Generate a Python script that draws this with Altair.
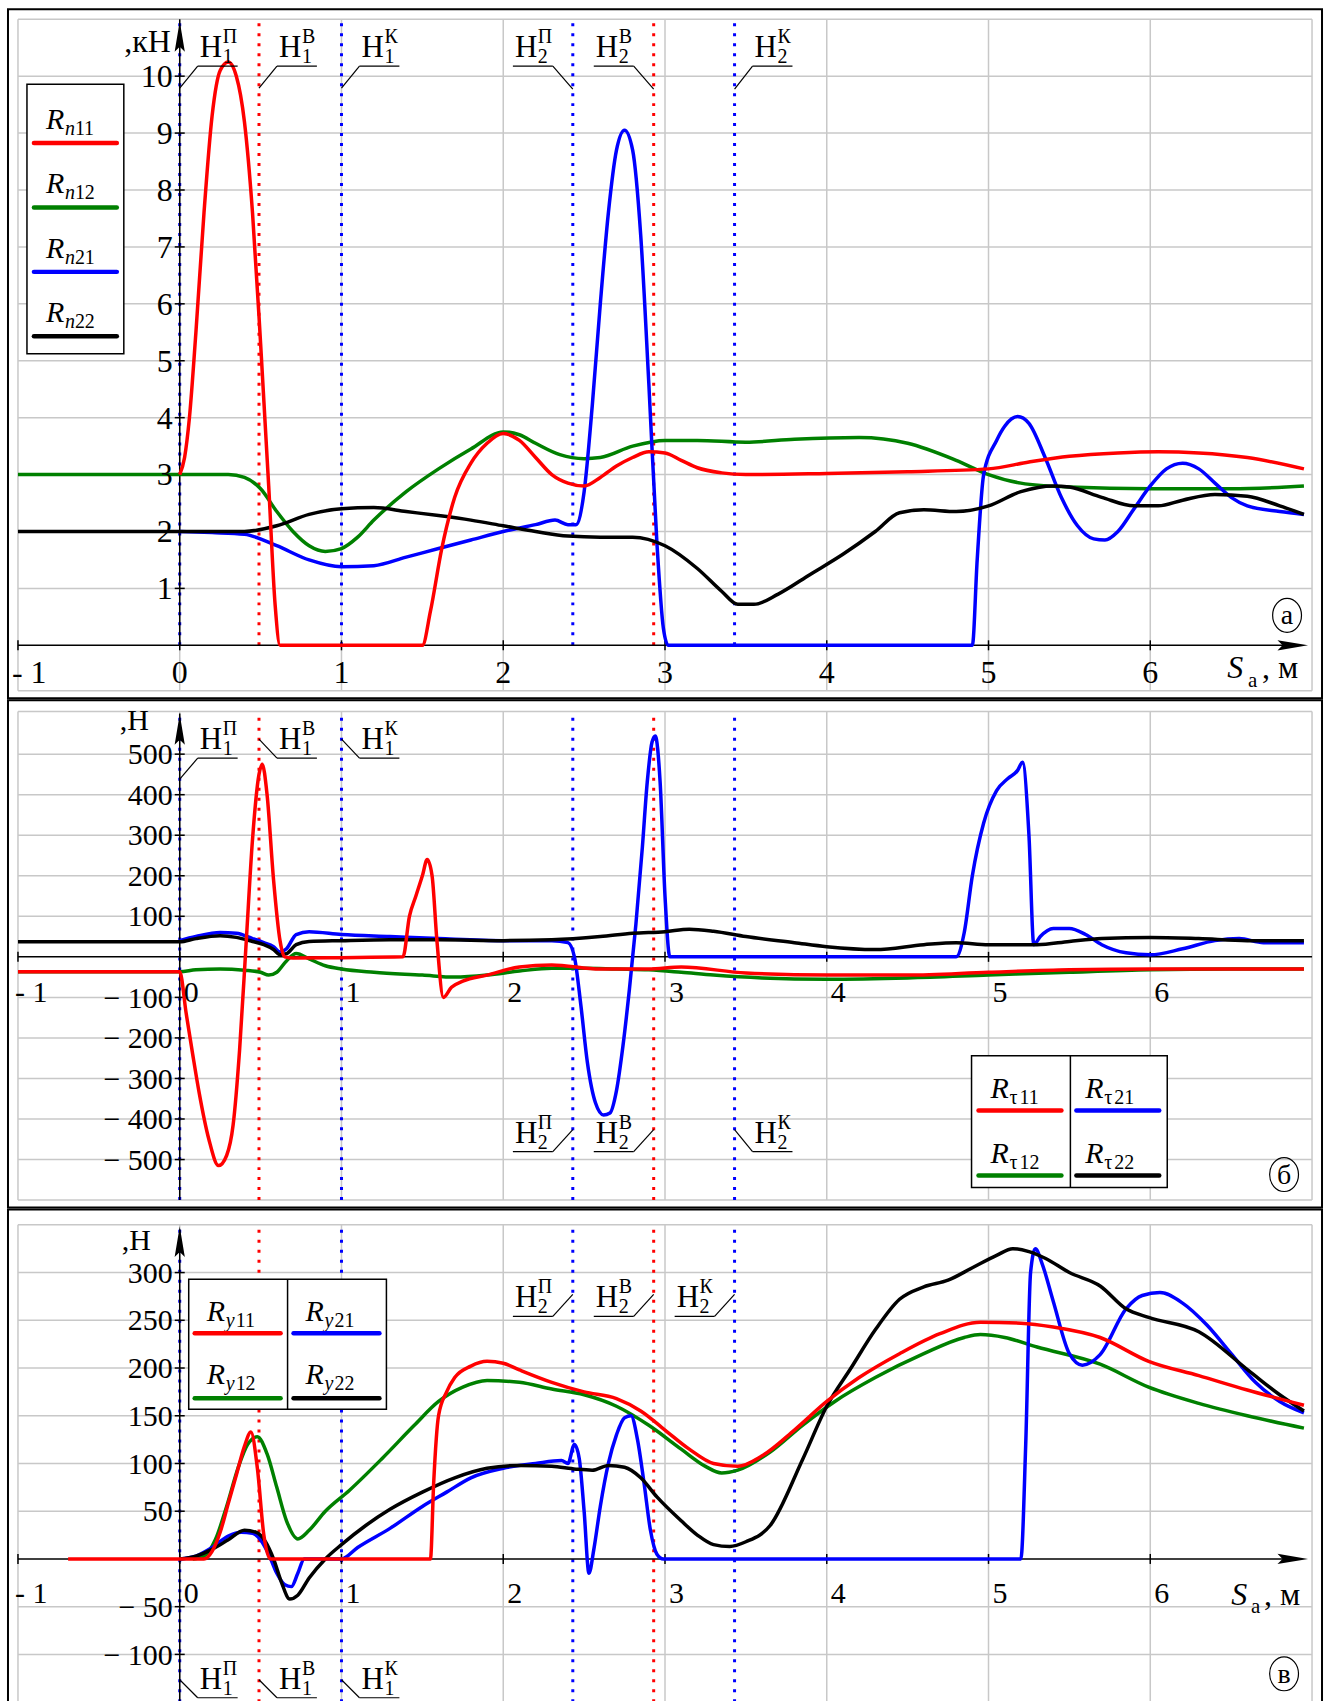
import altair as alt
import pandas as pd

FONT = "Liberation Serif, Times New Roman, DejaVu Serif, serif"
RED, GREEN, BLUE, BLACK = "#ff0000", "#008000", "#0000ff", "#000000"
GRID_COLOR = "#c8c8c8"

# ---------------- data ----------------
X_TICKS = [-1, 0, 1, 2, 3, 4, 5, 6]
X_TICK_LABELS = ["- 1", "0", "1", "2", "3", "4", "5", "6"]
GRID_X = [-1, 0, 1, 2, 3, 4, 5, 6, 7]

P1_Y_TICKS = [1, 2, 3, 4, 5, 6, 7, 8, 9, 10]
P1_Y_LABELS = ["1", "2", "3", "4", "5", "6", "7", "8", "9", "10"]
P2_Y_TICKS = [500, 400, 300, 200, 100, -100, -200, -300, -400, -500]
P2_Y_LABELS = ["500", "400", "300", "200", "100", "− 100", "− 200", "− 300", "− 400", "− 500"]
P3_Y_TICKS = [300, 250, 200, 150, 100, 50, -50, -100]
P3_Y_LABELS = ["300", "250", "200", "150", "100", "50", "− 50", "− 100"]

MARKER_X = [0.0, 0.49, 1.0, 2.43, 2.93, 3.43]
MARKER_SUB = ["1", "1", "1", "2", "2", "2"]
MARKER_SUP = ["П", "В", "К", "П", "В", "К"]

# panel а : normal reactions, kN
RN11 = [(0.00, 3.00), (0.03, 3.30), (0.06, 4.00), (0.10, 5.50), (0.15, 7.60), (0.20, 9.30), (0.25, 10.10),
        (0.30, 10.25), (0.35, 10.00), (0.40, 9.20), (0.45, 7.60), (0.50, 5.30), (0.55, 2.80), (0.59, 0.70),
        (0.62, 0.00), (1.50, 0.00), (1.55, 0.60), (1.62, 1.70), (1.70, 2.60), (1.80, 3.20), (1.90, 3.55),
        (2.00, 3.72), (2.10, 3.60), (2.20, 3.30), (2.30, 3.00), (2.40, 2.85), (2.50, 2.80), (2.60, 2.95),
        (2.70, 3.15), (2.80, 3.30), (2.90, 3.40), (3.00, 3.38), (3.10, 3.25), (3.20, 3.12), (3.35, 3.03),
        (3.50, 3.00), (4.00, 3.02), (4.50, 3.05), (5.00, 3.10), (5.25, 3.22), (5.50, 3.32), (5.80, 3.38),
        (6.05, 3.40), (6.30, 3.38), (6.60, 3.30), (6.95, 3.10)]
RN12 = [(-1.0, 3.0), (0.30, 3.0), (0.40, 2.95), (0.50, 2.75), (0.60, 2.35), (0.70, 2.00), (0.80, 1.75),
        (0.90, 1.65), (1.00, 1.70), (1.10, 1.90), (1.20, 2.20), (1.40, 2.70), (1.60, 3.10), (1.80, 3.45),
        (2.00, 3.75), (2.10, 3.70), (2.20, 3.55), (2.35, 3.35), (2.50, 3.28), (2.60, 3.30), (2.80, 3.50),
        (3.00, 3.60), (3.20, 3.60), (3.50, 3.57), (3.80, 3.62), (4.20, 3.65), (4.50, 3.55), (4.80, 3.25),
        (5.00, 3.00), (5.20, 2.85), (5.50, 2.78), (6.00, 2.75), (6.50, 2.75), (6.95, 2.80)]
RN21 = [(0.00, 2.00), (0.20, 1.98), (0.40, 1.95), (0.60, 1.75), (0.80, 1.50), (1.00, 1.38), (1.20, 1.40),
        (1.40, 1.55), (1.60, 1.70), (1.80, 1.85), (2.00, 2.00), (2.20, 2.12), (2.32, 2.20), (2.40, 2.12),
        (2.45, 2.12), (2.50, 2.70), (2.55, 4.20), (2.60, 6.00), (2.65, 7.60), (2.70, 8.70), (2.75, 9.05),
        (2.80, 8.70), (2.85, 7.20), (2.90, 4.60), (2.95, 1.80), (2.99, 0.30), (3.02, 0.00), (4.90, 0.00),
        (4.93, 1.50), (4.97, 3.00), (5.05, 3.60), (5.10, 3.85), (5.18, 4.02), (5.25, 3.90), (5.35, 3.30),
        (5.45, 2.60), (5.55, 2.10), (5.65, 1.87), (5.72, 1.85), (5.80, 2.00), (5.90, 2.40), (6.00, 2.80),
        (6.10, 3.10), (6.20, 3.20), (6.30, 3.10), (6.40, 2.85), (6.50, 2.60), (6.60, 2.45), (6.80, 2.35),
        (6.95, 2.30)]
RN22 = [(-1.0, 2.0), (0.40, 2.0), (0.60, 2.10), (0.80, 2.30), (1.00, 2.40), (1.20, 2.42), (1.40, 2.35),
        (1.60, 2.28), (1.80, 2.20), (2.00, 2.10), (2.20, 2.00), (2.40, 1.92), (2.60, 1.90), (2.80, 1.90),
        (3.00, 1.75), (3.20, 1.35), (3.35, 0.95), (3.45, 0.72), (3.55, 0.72), (3.70, 0.90), (3.90, 1.25),
        (4.10, 1.60), (4.30, 2.00), (4.45, 2.33), (4.60, 2.38), (4.80, 2.35), (5.00, 2.45), (5.20, 2.70),
        (5.40, 2.80), (5.50, 2.78), (5.70, 2.60), (5.90, 2.45), (6.05, 2.45), (6.20, 2.55), (6.40, 2.65),
        (6.60, 2.62), (6.80, 2.45), (6.95, 2.30)]

# panel б : tangential reactions, N
RT11 = [(-1.0, -37), (0.00, -37), (0.04, -140), (0.08, -240), (0.12, -335), (0.18, -450), (0.24, -515),
        (0.29, -490), (0.33, -415), (0.37, -230), (0.41, 30), (0.45, 290), (0.49, 450), (0.51, 475),
        (0.54, 400), (0.58, 190), (0.62, 40), (0.65, 0), (0.70, -3), (1.00, -2), (1.38, 0), (1.42, 100),
        (1.46, 150), (1.50, 200), (1.53, 240), (1.56, 200), (1.59, 40), (1.63, -100), (1.68, -75),
        (1.75, -60), (1.90, -45), (2.10, -25), (2.30, -20), (2.60, -30), (2.90, -30), (3.10, -25),
        (3.50, -40), (4.00, -45), (4.50, -45), (5.00, -38), (5.50, -32), (6.00, -30), (6.95, -30)]
RT12 = [(-1.0, -37), (0.00, -37), (0.10, -32), (0.25, -30), (0.40, -33), (0.50, -38), (0.55, -45),
        (0.60, -38), (0.66, -10), (0.72, 8), (0.80, -5), (0.90, -22), (1.00, -30), (1.20, -38), (1.50, -45),
        (1.70, -50), (1.90, -45), (2.10, -35), (2.30, -28), (2.50, -28), (2.70, -30), (2.90, -32),
        (3.10, -38), (3.30, -45), (3.60, -52), (4.00, -55), (4.50, -52), (5.00, -45), (5.50, -38),
        (6.00, -32), (6.50, -30), (6.95, -30)]
RT21 = [(0.00, 40), (0.10, 50), (0.25, 60), (0.35, 58), (0.45, 45), (0.52, 35), (0.58, 25), (0.62, 12),
        (0.66, 20), (0.72, 55), (0.80, 62), (1.00, 55), (1.30, 50), (1.60, 45), (2.00, 40), (2.30, 40),
        (2.40, 35), (2.44, 0), (2.48, -120), (2.52, -260), (2.57, -360), (2.62, -390), (2.66, -385),
        (2.70, -330), (2.74, -220), (2.78, -80), (2.82, 80), (2.86, 270), (2.89, 430), (2.92, 530),
        (2.94, 545), (2.97, 430), (3.00, 150), (3.03, 0), (4.80, 0), (4.85, 60), (4.90, 200), (4.97, 330),
        (5.05, 410), (5.12, 440), (5.18, 460), (5.21, 480), (5.25, 300), (5.28, 30), (5.32, 50), (5.40, 70),
        (5.50, 70), (5.60, 55), (5.70, 30), (5.85, 10), (6.00, 5), (6.20, 20), (6.40, 40), (6.55, 45),
        (6.70, 35), (6.95, 35)]
RT22 = [(-1.0, 37), (0.00, 37), (0.10, 45), (0.25, 52), (0.35, 48), (0.45, 38), (0.52, 30), (0.58, 18),
        (0.62, 5), (0.66, 8), (0.72, 30), (0.80, 38), (1.00, 40), (1.30, 42), (1.60, 42), (2.00, 40),
        (2.30, 42), (2.60, 50), (2.80, 58), (3.00, 62), (3.15, 68), (3.30, 63), (3.50, 50), (3.80, 35),
        (4.00, 25), (4.30, 18), (4.60, 30), (4.80, 35), (5.00, 30), (5.30, 30), (5.50, 38), (5.70, 45),
        (6.00, 48), (6.30, 45), (6.60, 40), (6.95, 40)]

# panel в : lateral reactions, N
RY11 = [(-0.69, 0), (0.15, 0), (0.20, 8), (0.25, 28), (0.30, 58), (0.35, 88), (0.40, 118), (0.44, 133),
        (0.48, 95), (0.52, 25), (0.56, 0), (1.55, 0), (1.57, 80), (1.60, 150), (1.65, 175), (1.70, 190),
        (1.80, 202), (1.90, 207), (2.00, 205), (2.10, 198), (2.30, 185), (2.50, 175), (2.70, 168),
        (2.85, 155), (3.00, 135), (3.15, 115), (3.30, 100), (3.45, 97), (3.60, 108), (3.80, 135),
        (4.00, 165), (4.20, 190), (4.45, 215), (4.70, 236), (4.95, 248), (5.20, 247), (5.40, 243),
        (5.69, 232), (5.99, 207), (6.30, 192), (6.60, 177), (6.95, 161)]
RY12 = [(0.08, 0), (0.15, 3), (0.22, 20), (0.29, 55), (0.36, 95), (0.42, 120), (0.48, 128), (0.54, 110),
        (0.60, 75), (0.66, 40), (0.73, 21), (0.80, 30), (0.90, 50), (1.05, 72), (1.25, 105), (1.45, 140),
        (1.60, 165), (1.75, 180), (1.90, 187), (2.10, 185), (2.30, 178), (2.50, 172), (2.70, 160),
        (2.90, 140), (3.10, 115), (3.25, 97), (3.35, 90), (3.45, 93), (3.65, 112), (3.85, 140), (4.05, 165),
        (4.30, 190), (4.60, 215), (4.85, 232), (4.95, 235), (5.10, 232), (5.30, 222), (5.69, 204),
        (5.99, 180), (6.30, 163), (6.60, 150), (6.95, 137)]
RY21 = [(0.00, 0), (0.10, 3), (0.20, 12), (0.30, 24), (0.38, 28), (0.45, 27), (0.50, 20), (0.55, 5),
        (0.60, -15), (0.65, -27), (0.69, -29), (0.73, -15), (0.77, 0), (1.00, 0), (1.10, 12), (1.30, 32),
        (1.50, 55), (1.65, 70), (1.80, 85), (2.00, 95), (2.20, 100), (2.36, 103), (2.40, 100), (2.44, 120),
        (2.47, 105), (2.50, 50), (2.53, -15), (2.56, 10), (2.60, 55), (2.65, 100), (2.70, 130), (2.75, 148),
        (2.79, 150), (2.83, 125), (2.87, 80), (2.91, 30), (2.95, 5), (2.99, 0), (5.20, 0), (5.23, 120),
        (5.26, 300), (5.29, 325), (5.33, 310), (5.40, 270), (5.50, 215), (5.58, 203), (5.69, 214),
        (5.85, 262), (5.95, 276), (6.06, 279), (6.20, 268), (6.35, 245), (6.50, 215), (6.65, 185),
        (6.80, 165), (6.95, 153)]
RY22 = [(0.00, 0), (0.10, 3), (0.20, 10), (0.30, 20), (0.40, 30), (0.47, 28), (0.53, 18), (0.58, 0),
        (0.63, -25), (0.68, -42), (0.73, -38), (0.80, -20), (0.90, 0), (1.00, 15), (1.15, 35), (1.30, 52),
        (1.50, 70), (1.70, 85), (1.90, 95), (2.10, 98), (2.30, 97), (2.45, 94), (2.55, 93), (2.65, 98),
        (2.75, 96), (2.85, 85), (2.95, 65), (3.10, 40), (3.20, 25), (3.30, 15), (3.40, 13), (3.50, 18),
        (3.65, 35), (3.85, 104), (4.00, 160), (4.15, 200), (4.30, 240), (4.45, 272), (4.60, 285),
        (4.75, 292), (4.90, 305), (5.05, 318), (5.15, 325), (5.25, 322), (5.35, 315), (5.50, 300),
        (5.69, 286), (5.85, 262), (5.99, 253), (6.30, 238), (6.61, 197), (6.80, 172), (6.95, 155)]

# ---------------- geometry ----------------
X0_PX, X_UNIT = 179.0, 162.0
LEFT_PX, WIDTH = 7, 1316
P = {
    1: dict(top=7, height=690, y0=644.0, k=57.0, frame=(-0.8, 11.0)),
    2: dict(top=697, height=508, y0=954.0, k=0.406, frame=(-600, 605)),
    3: dict(top=1205, height=495, y0=1555.0, k=0.956, frame=(-150, 350)),
}


def xd(px):
    return (px - X0_PX) / X_UNIT


def xpx(x):
    return X0_PX + x * X_UNIT


def yd(p, py):
    return (P[p]["y0"] - py) / P[p]["k"]


def ypx(p, y):
    return P[p]["y0"] - y * P[p]["k"]


XS = alt.Scale(domain=[xd(LEFT_PX), xd(LEFT_PX + WIDTH)], nice=False, zero=False)


def ys(p):
    return alt.Scale(domain=[yd(p, P[p]["top"] + P[p]["height"]), yd(p, P[p]["top"])], nice=False, zero=False)


def XE():
    return alt.X("x:Q", scale=XS, axis=None)


def YE(p):
    return alt.Y("y:Q", scale=ys(p), axis=None)


def R(p, segs, color, width, dash=None, cap="butt"):
    df = pd.DataFrame(segs, columns=["x", "y", "x2", "y2"])
    kw = dict(color=color, strokeWidth=width, strokeCap=cap)
    if dash:
        kw["strokeDash"] = dash
    return alt.Chart(df).mark_rule(**kw).encode(x=XE(), y=YE(p), x2="x2:Q", y2="y2:Q")


def RP(p, segs_px, color, width, cap="butt"):
    return R(p, [(xd(a), yd(p, b), xd(c), yd(p, d)) for a, b, c, d in segs_px], color, width, cap=cap)


def T(p, items, align="left", style="normal"):
    rows = [(xd(a), yd(p, b), t, s) for a, b, t, s in items]
    df = pd.DataFrame(rows, columns=["x", "y", "t", "s"])
    return alt.Chart(df).mark_text(align=align, baseline="alphabetic", font=FONT, fontStyle=style,
                                   color="black").encode(
        x=XE(), y=YE(p), text="t:N", size=alt.Size("s:Q", scale=None, legend=None))


ARROW_UP = "M0,-1L0.3,0.8L0,0.5L-0.3,0.8Z"
ARROW_RIGHT = "M1,0L-0.8,0.3L-0.5,0L-0.8,-0.3Z"
ELLIPSE = "M0,-1A0.85,1,0,1,1,0,1A0.85,1,0,1,1,0,-1Z"


def S(p, pts_px, shape, size, filled=True):
    df = pd.DataFrame([(xd(a), yd(p, b)) for a, b in pts_px], columns=["x", "y"])
    if filled:
        mk = alt.Chart(df).mark_point(shape=shape, size=size, filled=True, color="black", opacity=1)
    else:
        mk = alt.Chart(df).mark_point(shape=shape, size=size, filled=False, color="black", opacity=1,
                                      strokeWidth=1.2)
    return mk.encode(x=XE(), y=YE(p))


def BOX(p, x1, y1, x2, y2):
    df = pd.DataFrame([(xd(x1), yd(p, y1), xd(x2), yd(p, y2))], columns=["x", "y", "x2", "y2"])
    return alt.Chart(df).mark_rect(fill="white", stroke="black", strokeWidth=1.5).encode(
        x=XE(), y=YE(p), x2="x2:Q", y2="y2:Q")


def curve(p, pts, color):
    df = pd.DataFrame({"x": [a for a, _ in pts], "y": [b for _, b in pts], "i": list(range(len(pts)))})
    return alt.Chart(df).mark_line(color=color, strokeWidth=3.5, interpolate="monotone",
                                   strokeJoin="round").encode(x=XE(), y=YE(p), order="i:Q")


def grid(p, grid_y):
    lo, hi = P[p]["frame"]
    segs = [(-1, y, 7, y) for y in list(grid_y) + [lo, hi]]
    segs += [(x, lo, x, hi) for x in GRID_X]
    return R(p, segs, GRID_COLOR, 1.5)


def markers(p, lo, hi):
    blue = [(m, lo, m, hi) for m, s in zip(MARKER_X, MARKER_SUP) if s != "В"]
    red = [(m, lo, m, hi) for m, s in zip(MARKER_X, MARKER_SUP) if s == "В"]
    return [R(p, blue, BLUE, 3, [3, 7]), R(p, red, RED, 3, [3, 7])]


def axes(p, x_end, ylo, yhi, y_ticks):
    th = 5 / X_UNIT
    tv = 5 / P[p]["k"]
    segs = [(-1, 0, x_end, 0), (0, ylo, 0, yhi)]
    segs += [(-th, y, th, y) for y in y_ticks]
    segs += [(x, -tv, x, tv) for x in X_TICKS]
    return R(p, segs, BLACK, 1.5)


def h_labels(p, idxs, sides, dys, base, gap=20, w=38):
    big, small, segs = [], [], []
    for i, side, dy in zip(idxs, sides, dys):
        mpx = xpx(MARKER_X[i])
        ul = base + 9
        if side == "R":
            left = mpx + gap
            segs.append((left - 2, ul, mpx, ul + dy))
        else:
            left = mpx - gap - w
            segs.append((left + w, ul, mpx, ul + dy))
        segs.append((left - 2, ul, left + w, ul))
        big.append((left, base, "Н", 31))
        small.append((left + 23, base + 6, MARKER_SUB[i], 20))
        small.append((left + 23, base - 14, MARKER_SUP[i], 20))
    return [RP(p, segs, BLACK, 1.2), T(p, big), T(p, small)]


def y_tick_labels(p, ticks, labels, size):
    return T(p, [(172, ypx(p, v) + 0.34 * size, t, size) for v, t in zip(ticks, labels)], align="right")


def legend_entry(p, rx, base, sub_a, sub_b, sub_a_style, color, lx1, lx2, ly):
    return [T(p, [(rx, base, "R", 30)], style="italic"),
            T(p, [(rx + 19, base + 6, sub_a, 20)], style=sub_a_style),
            T(p, [(rx + 29, base + 6, sub_b, 20)]),
            RP(p, [(lx1, ly, lx2, ly)], color, 4.5, cap="round")]


# ---------------- panel а ----------------
L1 = [grid(1, P1_Y_TICKS)]
L1 += markers(1, 0, P[1]["frame"][1])
L1 += [axes(1, 6.9, 0, P[1]["frame"][1], P1_Y_TICKS)]
L1 += [curve(1, RN12, GREEN), curve(1, RN21, BLUE), curve(1, RN22, BLACK), curve(1, RN11, RED)]
L1 += [S(1, [(179, 36)], ARROW_UP, 1156), S(1, [(1292, 644)], ARROW_RIGHT, 1156)]
L1 += h_labels(1, [0, 1, 2, 3, 4, 5], ["R", "R", "R", "L", "L", "R"], [22, 22, 22, 23, 23, 23], 55)
L1 += [y_tick_labels(1, P1_Y_TICKS, P1_Y_LABELS, 32)]
L1 += [T(1, [(xpx(v), 682, t, 32) for v, t in zip(X_TICKS[1:], X_TICK_LABELS[1:])], align="center"),
       T(1, [(11, 682, X_TICK_LABELS[0], 32)])]
L1 += [T(1, [(170, 50, ",кН", 32)], align="right")]
L1 += [T(1, [(1228, 677, "S", 32)], style="italic"), T(1, [(1249, 686, "a", 21)]),
       T(1, [(1263, 677, ", м", 32)])]
L1 += [S(1, [(1288, 614)], ELLIPSE, 1156, filled=False), T(1, [(1288, 623, "а", 28)], align="center")]
L1 += [BOX(1, 26, 82, 123, 352)]
for i, (sb, col) in enumerate([("11", RED), ("12", GREEN), ("21", BLUE), ("22", BLACK)]):
    L1 += legend_entry(1, 45, 127 + 64.5 * i, "n", sb, "italic", col, 33, 116, 141 + 64.5 * i)
panel1 = alt.layer(*L1).properties(width=WIDTH, height=P[1]["height"])

# ---------------- panel б ----------------
lo2, hi2 = P[2]["frame"]
L2 = [grid(2, P2_Y_TICKS)]
L2 += markers(2, lo2, hi2)
L2 += [axes(2, 7, lo2, hi2 - 5, P2_Y_TICKS)]
L2 += [curve(2, RT12, GREEN), curve(2, RT21, BLUE), curve(2, RT22, BLACK), curve(2, RT11, RED)]
L2 += [S(2, [(179, 728)], ARROW_UP, 1156)]
L2 += h_labels(2, [0, 1, 2], ["R", "R", "R"], [21, -19, -19], 746)
L2 += h_labels(2, [3, 4, 5], ["L", "L", "R"], [-22, -22, -22], 1140)
L2 += [y_tick_labels(2, P2_Y_TICKS, P2_Y_LABELS, 30)]
L2 += [T(2, [(xpx(v) + 4, 999, t, 30) for v, t in zip(X_TICKS[1:], X_TICK_LABELS[1:])]),
       T(2, [(14, 999, X_TICK_LABELS[0], 30)])]
L2 += [T(2, [(148, 727, ",Н", 30)], align="right")]
L2 += [S(2, [(1285, 1172)], ELLIPSE, 1156, filled=False), T(2, [(1285, 1181, "б", 28)], align="center")]
L2 += [BOX(2, 972, 1053, 1168, 1185), RP(2, [(1071, 1053, 1071, 1185)], BLACK, 1.5)]
for c, r, sb, col in [(0, 0, "11", RED), (0, 1, "12", GREEN), (1, 0, "21", BLUE), (1, 1, "22", BLACK)]:
    L2 += legend_entry(2, 991 + 95 * c, 1095 + 65 * r, "τ", sb, "normal", col,
                       979 + 98 * c, 1062 + 98 * c, 1108 + 65 * r)
panel2 = alt.layer(*L2).properties(width=WIDTH, height=P[2]["height"])

# ---------------- panel в ----------------
lo3, hi3 = P[3]["frame"]
L3 = [grid(3, P3_Y_TICKS)]
L3 += markers(3, lo3, hi3)
L3 += [axes(3, 6.9, lo3, hi3 - 5, P3_Y_TICKS)]
L3 += [curve(3, RY12, GREEN), curve(3, RY21, BLUE), curve(3, RY22, BLACK), curve(3, RY11, RED)]
L3 += [S(3, [(179, 1239)], ARROW_UP, 1156), S(3, [(1292, 1555)], ARROW_RIGHT, 1156)]
L3 += h_labels(3, [3, 4, 5], ["L", "L", "L"], [-22, -22, -22], 1303)
L3 += h_labels(3, [0, 1, 2], ["R", "R", "R"], [-18, -18, -18], 1685)
L3 += [y_tick_labels(3, P3_Y_TICKS, P3_Y_LABELS, 30)]
L3 += [T(3, [(xpx(v) + 4, 1599, t, 30) for v, t in zip(X_TICKS[1:], X_TICK_LABELS[1:])]),
       T(3, [(14, 1599, X_TICK_LABELS[0], 30)])]
L3 += [T(3, [(150, 1246, ",Н", 30)], align="right")]
L3 += [T(3, [(1232, 1601, "S", 32)], style="italic"), T(3, [(1252, 1609, "a", 21)]),
       T(3, [(1265, 1601, ", м", 32)])]
L3 += [S(3, [(1285, 1670)], ELLIPSE, 1156, filled=False), T(3, [(1285, 1679, "в", 28)], align="center")]
L3 += [BOX(3, 188, 1275, 386, 1405), RP(3, [(287, 1275, 287, 1405)], BLACK, 1.5)]
for c, r, sb, col in [(0, 0, "11", RED), (0, 1, "12", GREEN), (1, 0, "21", BLUE), (1, 1, "22", BLACK)]:
    L3 += legend_entry(3, 206 + 99 * c, 1317 + 63 * r, "y", sb, "italic", col,
                       194 + 99 * c, 280 + 99 * c, 1329 + 65 * r)
panel3 = alt.layer(*L3).properties(width=WIDTH, height=P[3]["height"])

chart = alt.vconcat(panel1, panel2, panel3, spacing=0).properties(
    padding={"left": 7, "top": 7, "right": 8, "bottom": 1},
    background="white",
).configure_view(stroke="black", strokeWidth=2)

chart.save("out.html", embed_options={"renderer": "svg", "actions": False})
